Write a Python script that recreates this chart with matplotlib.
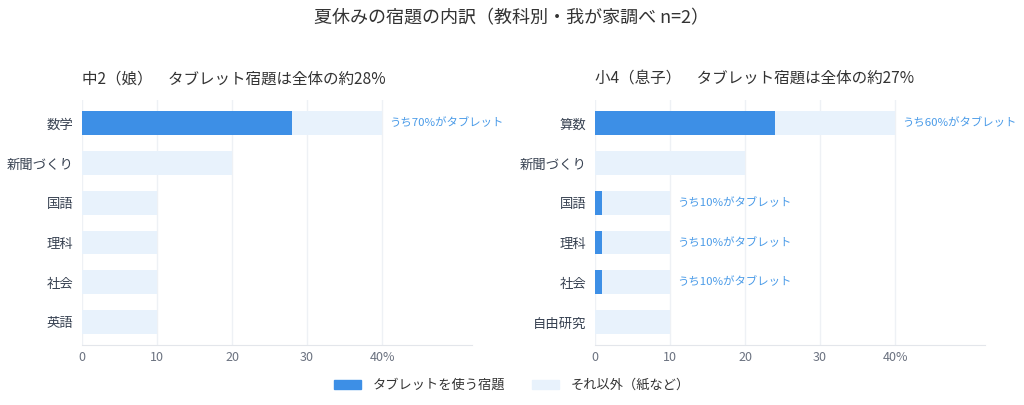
import matplotlib.pyplot as plt
import numpy as np

plt.rcParams['font.family'] = ['Noto Sans CJK JP', 'DejaVu Sans']

title = '夏休みの宿題の内訳（教科別・我が家調べ n=2）'

left_title = '中2（娘）　タブレット宿題は全体の約28%'
left_cats = ['数学', '新聞づくり', '国語', '理科', '社会', '英語']
left_total = [40, 20, 10, 10, 10, 10]
left_share = [70, 0, 0, 0, 0, 0]   # % of that subject done on tablet

right_title = '小4（息子）　タブレット宿題は全体の約27%'
right_cats = ['算数', '新聞づくり', '国語', '理科', '社会', '自由研究']
right_total = [40, 20, 10, 10, 10, 10]
right_share = [60, 0, 10, 10, 10, 0]

xticks = [0, 10, 20, 30, 40]
xticklabels = ['0', '10', '20', '30', '40%']

c_tab = '#3d8fe6'
c_other = '#e8f2fc'
c_note = '#4a9be8'
c_grid = '#eef1f5'
c_tick = '#6b7280'
c_text = '#333333'

fig = plt.figure(figsize=(10.24, 4.05), dpi=100)
ax1 = fig.add_axes([0.0801, 0.148, 0.381, 0.605])
ax2 = fig.add_axes([0.581, 0.148, 0.381, 0.605])

fig.text(0.5, 0.955, title, ha='center', va='center', fontsize=13, color=c_text)


def draw(ax, cats, total, share, sub):
    y = np.arange(len(cats))
    total = np.array(total, dtype=float)
    tab = total * np.array(share) / 100
    ax.barh(y, total, height=0.6, color=c_other, zorder=2)
    ax.barh(y, tab, height=0.6, color=c_tab, zorder=3)
    for yi, t, s in zip(y, total, share):
        if s > 0:
            ax.text(t + 1, yi, 'うち%d%%がタブレット' % s, va='center', ha='left',
                    fontsize=8.2, color=c_note)
    ax.set_yticks(y)
    ax.set_yticklabels(cats, fontsize=9.6, color='#374151')
    ax.set_ylim(len(cats) - 0.42, -0.58)
    ax.set_xlim(0, 52)
    ax.set_xticks(xticks)
    ax.set_xticklabels(xticklabels, fontsize=9, color=c_tick)
    ax.tick_params(length=0, pad=6)
    ax.tick_params(axis='x', pad=4)
    ax.grid(axis='x', color=c_grid, linewidth=1, zorder=0)
    for s in ['top', 'right', 'left']:
        ax.spines[s].set_visible(False)
    ax.spines['bottom'].set_color('#e3e6eb')
    ax.text(0, 1.085, sub, transform=ax.transAxes, fontsize=11.2, color=c_text,
            ha='left', va='center')


draw(ax1, left_cats, left_total, left_share, left_title)
draw(ax2, right_cats, right_total, right_share, right_title)

h1 = plt.Rectangle((0, 0), 1, 1, color=c_tab)
h2 = plt.Rectangle((0, 0), 1, 1, color=c_other)
fig.legend([h1, h2], ['タブレットを使う宿題', 'それ以外（紙など）'], loc='center',
           bbox_to_anchor=(0.5, 0.048), ncol=2, frameon=False, fontsize=9.5,
           handlelength=2.05, handleheight=0.6, handletextpad=0.9,
           columnspacing=2.0, labelcolor=c_text)

plt.savefig('out.png', dpi=100)
